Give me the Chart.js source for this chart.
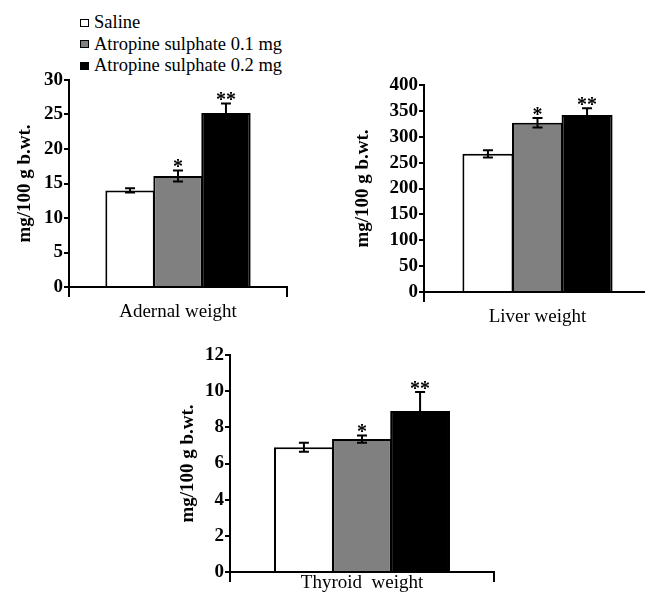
<!DOCTYPE html>
<html>
<head>
<meta charset="utf-8">
<script src="https://cdn.jsdelivr.net/npm/chart.js@4.4.0/dist/chart.umd.min.js"></script>
<style>
body { margin:0; background:#fff; overflow:hidden; width:645px; height:603px; position:relative; }
canvas { position:absolute; }
#legend { position:absolute; left:80px; top:12px; font:18.5px "Liberation Serif", serif; color:#000; }
#legend .row { display:flex; align-items:center; height:21.5px; white-space:nowrap; }
#legend .box { width:7px; height:6px; border:1.5px solid #000; margin-right:5px; }
</style>
</head>
<body>
<div id="legend"></div>
<canvas id="adrenal" width="292" height="272" style="left:10px;top:60px"></canvas>
<canvas id="liver" width="318" height="272" style="left:348px;top:65px"></canvas>
<canvas id="thyroid" width="336" height="267" style="left:173px;top:335px"></canvas>
<script>
var groups = ['Saline', 'Atropine sulphate 0.1 mg', 'Atropine sulphate 0.2 mg'];
var groupColors = ['#ffffff', '#808080', '#000000'];
var stars = ['', '*', '**'];

var adrenalMean = [14.0, 16.1, 25.2];
var adrenalSem = [0.3, 0.8, 1.4];
var liverMean = [267, 327, 342];
var liverSem = [7, 9, 13];
var thyroidMean = [6.9, 7.35, 8.9];
var thyroidSem = [0.25, 0.2, 1.05];

var serif = '"Liberation Serif", "Times New Roman", serif';

// legend
var legend = document.getElementById('legend');
groups.forEach(function(g, i) {
    var row = document.createElement('div');
    row.className = 'row';
    var box = document.createElement('span');
    box.className = 'box';
    box.style.background = groupColors[i];
    row.appendChild(box);
    row.appendChild(document.createTextNode(g));
    legend.appendChild(row);
});

// mean +/- sem bars with significance stars
var errorBars = {
    id: 'errorBars',
    afterDatasetsDraw: function(chart) {
        var ctx = chart.ctx, y = chart.scales.y;
        chart.data.datasets.forEach(function(ds, i) {
            var bar = chart.getDatasetMeta(i).data[0];
            var top = y.getPixelForValue(ds.data[0] + ds.sem);
            var bot = y.getPixelForValue(ds.data[0] - ds.sem);
            ctx.save();
            ctx.strokeStyle = '#000';
            ctx.lineWidth = 2;
            ctx.beginPath();
            ctx.moveTo(bar.x, top); ctx.lineTo(bar.x, bot);
            ctx.moveTo(bar.x - 5, top); ctx.lineTo(bar.x + 5, top);
            ctx.moveTo(bar.x - 5, bot); ctx.lineTo(bar.x + 5, bot);
            ctx.stroke();
            if (stars[i]) {
                ctx.fillStyle = '#000';
                ctx.font = 'bold 20px ' + serif;
                ctx.textAlign = 'center';
                ctx.fillText(stars[i], bar.x, top + 3);
            }
            ctx.restore();
        });
    }
};

function makePanel(id, organ, means, sems, max, step, opt) {
    return new Chart(document.getElementById(id), {
        type: 'bar',
        data: {
            labels: [organ],
            datasets: groups.map(function(g, i) {
                return {
                    label: g,
                    data: [means[i]],
                    sem: sems[i],
                    backgroundColor: groupColors[i],
                    borderColor: '#000',
                    borderWidth: 2,
                    barPercentage: 1.03, // slight overlap so neighbouring outlines merge
                    categoryPercentage: opt.cat
                };
            })
        },
        options: {
            responsive: false,
            animation: false,
            layout: { padding: { top: 20, right: 15, left: 0, bottom: 0 } },
            plugins: { legend: { display: false }, tooltip: { enabled: false } },
            scales: {
                x: {
                    grid: { drawOnChartArea: false, tickLength: 10, color: '#000', lineWidth: 2 },
                    border: { color: '#000', width: 2 },
                    ticks: { color: '#000', font: { family: serif, size: 19 }, padding: opt.labelPad },
                    afterFit: function(s) { s.height = opt.xh; }
                },
                y: {
                    min: 0,
                    max: max,
                    ticks: { stepSize: step, color: '#000', padding: 1, font: { family: serif, size: 19, weight: 'bold' } },
                    grid: { drawOnChartArea: false, tickLength: 5, color: '#000', lineWidth: 2 },
                    border: { color: '#000', width: 2 },
                    title: {
                        display: true,
                        text: 'mg/100 g b.wt.',
                        color: '#000',
                        font: { family: serif, size: 19, weight: 'bold' },
                        padding: { top: 4, bottom: 0 }
                    },
                    afterFit: function(s) { s.width = opt.yw; }
                }
            }
        },
        plugins: [errorBars]
    });
}

makePanel('adrenal', 'Adernal weight', adrenalMean, adrenalSem, 30, 5, { cat: 0.66, yw: 59, xh: 45, labelPad: 3.6 });
makePanel('liver', 'Liver weight', liverMean, liverSem, 400, 50, { cat: 0.655, yw: 76, xh: 45, labelPad: 3.6 });
makePanel('thyroid', 'Thyroid  weight', thyroidMean, thyroidSem, 12, 2, { cat: 0.66, yw: 57, xh: 30, labelPad: -10.4 });
</script>
</body>
</html>
